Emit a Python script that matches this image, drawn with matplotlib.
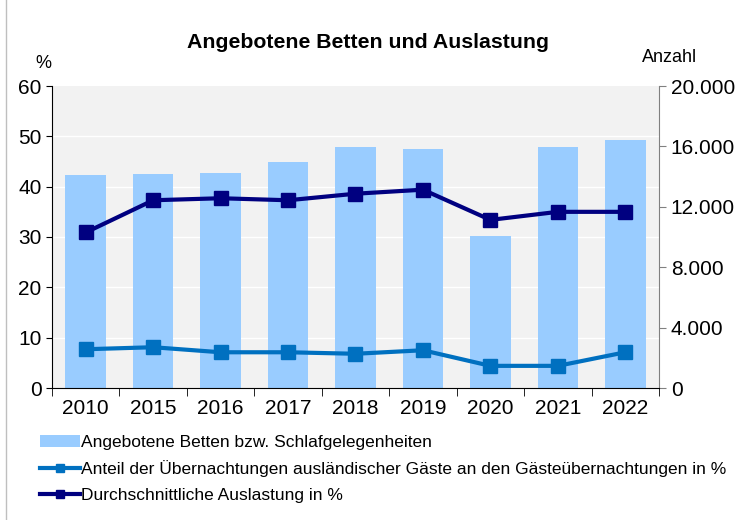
import matplotlib
matplotlib.use("Agg")
import matplotlib.pyplot as plt
from matplotlib.lines import Line2D
from matplotlib.patches import Patch
import numpy as np

# Daten
jahre = ["2010", "2015", "2016", "2017", "2018", "2019", "2020", "2021", "2022"]
betten = [14100, 14200, 14250, 15000, 15950, 15830, 10050, 15990, 16420]
anteil_ausland = [7.7, 8.1, 7.1, 7.1, 6.8, 7.5, 4.4, 4.4, 7.1]
auslastung = [30.9, 37.3, 37.7, 37.3, 38.6, 39.4, 33.4, 35.0, 35.0]
rechts_ticks = [0, 4000, 8000, 12000, 16000, 20000]

plt.rcParams['font.family'] = ['Liberation Sans', 'DejaVu Sans']

fig = plt.figure(figsize=(7.4, 5.2), dpi=100)
ax = fig.add_axes([52/740, 1 - 388/520, 607/740, 302/520])
ax2 = ax.twinx()

x = np.arange(len(jahre))

# Balken auf rechter Achse
ax2.bar(x, betten, width=0.6, color="#99CCFF", zorder=1)
ax2.set_ylim(0, 20000)
ax2.set_yticks(rechts_ticks)
ax2.set_yticklabels([f"{v:,}".replace(",", ".") for v in rechts_ticks], fontsize=15)

# Linien auf linker Achse (vor die Balken legen)
ax.set_zorder(ax2.get_zorder() + 1)
ax.patch.set_visible(False)
ax2.patch.set_visible(True)
ax2.patch.set_facecolor("#F2F2F2")

ax.plot(x, anteil_ausland, color="#0070C0", lw=3, marker="s", ms=10, zorder=3)
ax.plot(x, auslastung, color="#000080", lw=3, marker="s", ms=10, zorder=3)

ax.set_ylim(0, 60)
ax.set_yticks(range(0, 61, 10))
ax.tick_params(axis="y", labelsize=15, length=4)
ax.set_xlim(-0.5, len(jahre) - 0.5)
ax.set_xticks(x)
ax.set_xticklabels(jahre, fontsize=15)
ax.tick_params(axis="x", length=0, pad=8)
ax.set_xticks(np.arange(-0.5, len(jahre)), minor=True)
ax.tick_params(axis="x", which="minor", length=6, direction="out")

# Gitterlinien
for v in range(10, 60, 10):
    ax2.axhline(v / 60 * 20000, color="white", lw=1, zorder=0.5)

ax2.tick_params(axis="y", length=5, color="#808080")
for s in ["top"]:
    ax.spines[s].set_visible(False)
    ax2.spines[s].set_visible(False)
ax.spines["right"].set_visible(False)
ax2.spines["left"].set_visible(False)
ax2.spines["bottom"].set_visible(False)
ax2.spines["right"].set_color("#808080")
ax.spines["left"].set_color("black")
ax.spines["bottom"].set_color("black")

fig.text(368/740, 1 - 42/520, "Angebotene Betten und Auslastung", ha="center", va="center",
         fontsize=15.3, fontweight="bold")
fig.text(43/740, 1 - 63/520, "%", ha="center", va="center", fontsize=13)
fig.text(670/740, 1 - 58/520, "Anzahl", ha="center", va="center", fontsize=13)

handles = [
    Patch(facecolor="#99CCFF", edgecolor="none"),
    Line2D([], [], color="#0070C0", lw=3, marker="s", ms=6),
    Line2D([], [], color="#000080", lw=3, marker="s", ms=6),
]
labels = [
    "Angebotene Betten bzw. Schlafgelegenheiten",
    "Anteil der Übernachtungen ausländischer Gäste an den Gästeübernachtungen in %",
    "Durchschnittliche Auslastung in %",
]
fig.legend(handles, labels, loc="upper left", bbox_to_anchor=(33/740, 1 - 428/520),
           frameon=False, fontsize=12.5, handlelength=2.3, handletextpad=0.05,
           labelspacing=0.6, borderaxespad=0)

# Rahmenlinie links
fig.add_artist(Line2D([6/740, 6/740], [0, 1], color="#BFBFBF", lw=1,
                      transform=fig.transFigure))

fig.savefig("out.png", dpi=100)
